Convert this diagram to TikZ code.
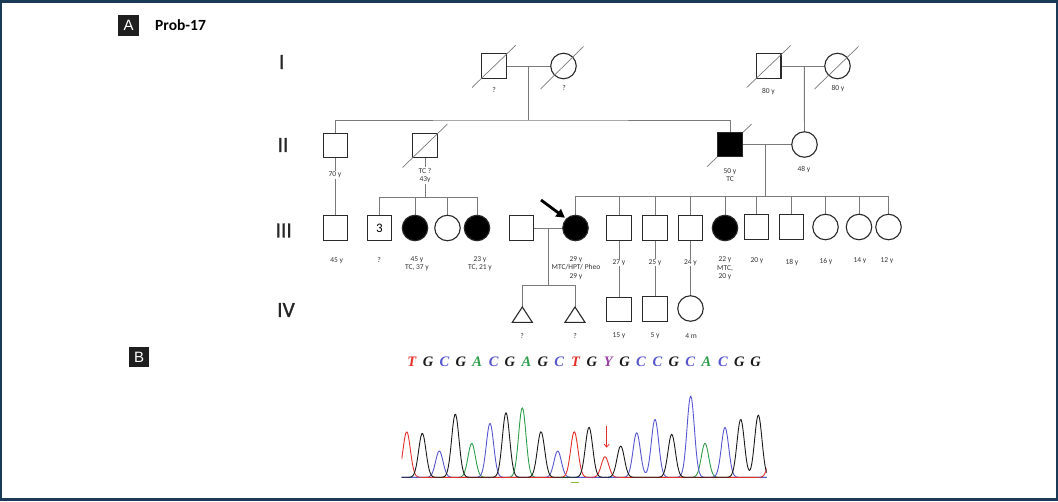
\documentclass[tikz,border=0pt]{standalone}
\usepackage{fontspec}
\setmainfont{Carlito}
\newfontfamily\seqfont{Liberation Serif}
\newfontfamily\tagfont{Liberation Sans}
\newfontfamily\genfont[FakeBold=1.2]{Carlito}
\usetikzlibrary{calc,arrows.meta}
\definecolor{frameblue}{HTML}{1B3A56}
\definecolor{sym}{HTML}{2A2A2A}
\definecolor{cgray}{HTML}{7A7A7A}
\definecolor{lab}{HTML}{333333}
\definecolor{tred}{HTML}{E2312B}
\definecolor{tblue}{HTML}{5656CF}
\definecolor{tgreen}{HTML}{2E9E4C}
\definecolor{tpurple}{HTML}{9A3DA2}
\definecolor{tblack}{HTML}{1A1A1A}
\definecolor{dashgreen}{HTML}{8DBB3C}
\begin{document}
\begin{tikzpicture}[x=1pt,y=-1pt,
  declare function={pk(\x,\c,\h)=\h*exp(-min(((\x-\c)/5.2)^2,30));},
  sq/.style={draw=sym, line width=1.1pt, fill=white, rectangle, minimum size=24.5pt, inner sep=0pt},
  ci/.style={draw=sym, line width=1.1pt, fill=white, circle, minimum size=25.5pt, inner sep=0pt},
  aff/.style={fill=black},
  conn/.style={draw=cgray, line width=0.9pt},
  dec/.style={draw=cgray, line width=0.7pt},
  lbl/.style={font=\fontsize{7.5}{8.5}\selectfont, text=lab, fill=white, inner sep=0.6pt, align=center},
  gen/.style={font=\genfont\fontsize{21.5}{22}\selectfont, text=black!85, inner sep=0pt},
  tagbox/.style={fill=black!88, text=white, font=\tagfont\fontsize{15}{15}\selectfont, minimum size=20.5pt, inner sep=0pt},
  trace/.style={line width=0.9pt, line join=round},
  seqletter/.style={font=\seqfont\bfseries\itshape\fontsize{14.5}{15}\selectfont, inner sep=0pt}
]
\useasboundingbox (0,0) rectangle (1058,501);
\draw[frameblue, line width=2.4pt] (1.2,1.5) rectangle (1056.8,499.5);

% panel tags
\node[tagbox] (tagA) at (128.7,25.5) {A};
\node[anchor=west, font=\bfseries\fontsize{15.5}{15.5}\selectfont, inner sep=0pt] (title) at (155,25) {Prob-17};
\node[tagbox] (tagB) at (139.2,357) {B};

% generation labels
\node[gen] (gI) at (281.7,62) {I};
\node[gen] (gII) at (283,145) {II};
\node[gen] (gIII) at (283.7,230.5) {III};
\node[gen] (gIV) at (286,310) {IV};

% junction coordinates
\coordinate (m1) at (528.3,66);
\coordinate (s1) at (528.3,120);
\coordinate (m2) at (804.3,66);
\coordinate (m3) at (765,144.5);
\coordinate (s3) at (765,196);
\coordinate (s2) at (425,197);
\coordinate (m4) at (548,228);
\coordinate (tw) at (548,285.7);
\coordinate (T1) at (522.3,307);
\coordinate (T2) at (575,307);
\coordinate (pa) at (541,200);

% ---- connectors ----
\draw[conn] (494,66) -- (563.5,66);
\draw[conn] (768.7,66) -- (837.5,66);
\draw[conn] (m1) -- (s1);
\draw[conn] (m2) -- (804.5,144.5);
\draw[conn] (335.5,145) |- (s1) -| (730,144.5);
\draw[conn] (425,145) -- (s2);
\draw[conn] (730,144.5) -- (804.5,144.5);
\draw[conn] (m3) -- (s3);
\draw[conn] (335.5,145) -- (335.5,228);
\draw[conn] (379.5,228) |- (s2);
\draw[conn] (s2) -| (477,228);
\draw[conn] (415,197) -- (415,228);
\draw[conn] (447.5,197) -- (447.5,228);
\draw[conn] (575.5,228) |- (s3);
\draw[conn] (s3) -| (888.5,227);
\foreach \xx in {619,655,690.5,725,756.5,791.5,825.5,859}
  \draw[conn] (\xx,196) -- (\xx,227);
\draw[conn] (521.3,228) -- (575.5,228);
\draw[conn] (m4) -- (tw);
\draw[conn] (T1) |- (tw) -| (T2);
\draw[conn] (619,228) -- (619,309);
\draw[conn] (655,228) -- (655,309);
\draw[conn] (690.5,228) -- (690.5,309);

% ---- generation I ----
\node[sq] (I1) at (494,66) {};
\node[ci] (I2) at (563.5,66) {};
\node[sq] (I3) at (768.7,66) {};
\node[ci] (I4) at (837.5,66) {};
\draw[dec] ($(I1)+(-22,21.5)$) -- ($(I1)+(22,-21)$);
\draw[dec] ($(I2)+(-23,23)$) -- ($(I2)+(20,-19.5)$);
\draw[dec] ($(I3)+(-22,21.5)$) -- ($(I3)+(22,-20.5)$);
\draw[dec] ($(I4)+(-23,23)$) -- ($(I4)+(21,-19.5)$);
\node[lbl] (lI1) at (494,89.5) {?};
\node[lbl] (lI2) at (564,88) {?};
\node[lbl] (lI3) at (768.5,92) {80 y};
\node[lbl] (lI4) at (838,89) {80 y};

% ---- generation II ----
\draw[dec] (707,166.7) -- (751.7,124);
\node[sq] (II1) at (335.5,145.5) {};
\node[sq] (II2) at (425,145.5) {};
\node[sq, aff] (II3) at (730,144.5) {};
\node[ci] (II4) at (804.5,144.5) {};
\draw[dec] ($(II2)+(-22.5,22)$) -- ($(II2)+(22.5,-21.5)$);
\node[lbl] (lII1) at (335,175) {70 y};
\node[lbl] (lII2) at (425,175.5) {TC ?\\43y};
\node[lbl] (lII3) at (730,175) {50 y\\TC};
\node[lbl] (lII4) at (804,170) {48 y};

% ---- generation III ----
\node[sq] (IIIa) at (335.5,228) {};
\node[sq, font=\fontsize{13}{13}\selectfont] (IIIb) at (379.5,228) {3};
\node[ci, aff] (IIIc) at (415,228) {};
\node[ci] (IIId) at (447.5,228) {};
\node[ci, aff] (IIIe) at (477,228) {};
\node[sq] (IIIf) at (521.3,228) {};
\node[ci, aff] (IIIg) at (575.5,228) {};
\node[sq] (IIIh) at (619,228) {};
\node[sq] (IIIi) at (655,228) {};
\node[sq] (IIIj) at (690.5,228) {};
\node[ci, aff] (IIIk) at (725,228) {};
\node[sq] (IIIl) at (756.5,227) {};
\node[sq] (IIIm) at (791.5,227) {};
\node[ci] (IIIn) at (825.5,227) {};
\node[ci] (IIIo) at (859,227) {};
\node[ci] (IIIp) at (888.5,227) {};
\draw[-{Triangle[length=8.5pt,width=9pt]}, line width=2.8pt, black, shorten >=1.5pt] (pa) -- (IIIg.north west);

\node[lbl] (lIIIa) at (336.7,260.7) {45 y};
\node[lbl] (lIIIb) at (379,260) {?};
\node[lbl] (lIIIc) at (417,263.5) {45 y\\TC, 37 y};
\node[lbl] (lIIIe) at (480,263.5) {23 y\\TC, 21 y};
\node[lbl] (lIIIg) at (576,268) {29 y\\MTC/HPT/ Pheo\\29 y};
\node[lbl] (lIIIh) at (619,262.7) {27 y};
\node[lbl] (lIIIi) at (655,262.7) {25 y};
\node[lbl] (lIIIj) at (690.5,262.7) {24 y};
\node[lbl] (lIIIk) at (725,268.5) {22 y\\MTC,\\20 y};
\node[lbl] (lIIIl) at (757,260.7) {20 y};
\node[lbl] (lIIIm) at (792,262.7) {18 y};
\node[lbl] (lIIIn) at (826,261.3) {16 y};
\node[lbl] (lIIIo) at (860,261) {14 y};
\node[lbl] (lIIIp) at (887,260.3) {12 y};

% ---- generation IV ----
\draw[draw=sym, line width=1.1pt, fill=white] (T1) -- ++(10,15.3) -- ++(-20,0) -- cycle;
\draw[draw=sym, line width=1.1pt, fill=white] (T2) -- ++(10,15.3) -- ++(-20,0) -- cycle;
\node[sq] (IVa) at (619,309.5) {};
\node[sq] (IVb) at (655,309) {};
\node[ci] (IVc) at (690.5,308.5) {};
\node[lbl] (lT1) at (522,336) {?};
\node[lbl] (lT2) at (575,336) {?};
\node[lbl] (lIVa) at (619,336) {15 y};
\node[lbl] (lIVb) at (655,336) {5 y};
\node[lbl] (lIVc) at (691,336) {4 m};

% ---- sequence ----
\foreach \ch/\col [count=\i from 0] in {T/tred,G/tblack,C/tblue,G/tblack,A/tgreen,C/tblue,G/tblack,A/tgreen,G/tblack,C/tblue,T/tred,G/tblack,Y/tpurple,G/tblack,C/tblue,C/tblue,G/tblack,C/tblue,A/tgreen,C/tblue,G/tblack,G/tblack}
  \node[seqletter, text=\col] (seq\i) at ({411.7+\i*16.38},361.7) {\ch};

% ---- chromatogram ----
\begin{scope}
\clip (401.7,380) rectangle (766.7,480);
\draw[trace, tgreen] plot[domain=401.7:766.7, samples=400] (\x, {477.3 - pk(\x,471.7,34) - pk(\x,522.3,69.6) - pk(\x,705,34)});
\draw[trace, tblue] plot[domain=401.7:766.7, samples=400] (\x, {477.3 - pk(\x,439.3,26.3) - pk(\x,490,54) - pk(\x,557.7,26.3) - pk(\x,636.7,44.6) - pk(\x,655,58) - pk(\x,690.7,81.3) - pk(\x,725,50)});
\draw[trace, tred] plot[domain=401.7:766.7, samples=400] (\x, {477.3 - pk(\x,406.7,45.6) - pk(\x,574.3,45.6) - pk(\x,605,20.6) - pk(\x,772,25)});
\draw[trace, tblack] plot[domain=401.7:766.7, samples=400] (\x, {477.3 - pk(\x,422.3,44) - pk(\x,455.3,63.3) - pk(\x,506,64.6) - pk(\x,541,45.6) - pk(\x,589,50) - pk(\x,620.7,31.3) - pk(\x,671.7,43) - pk(\x,740.7,58) - pk(\x,758.3,62.3)});
\end{scope}
\coordinate (ra1) at (606.7,426);
\coordinate (ra2) at (606.7,447.7);
\draw[tred, line width=0.8pt, -{Straight Barb[length=3pt,width=5pt]}] (ra1) -- (ra2);
\draw[dashgreen, line width=1.4pt] (571,482.3) -- (579,482.3);
\end{tikzpicture}
\end{document}
